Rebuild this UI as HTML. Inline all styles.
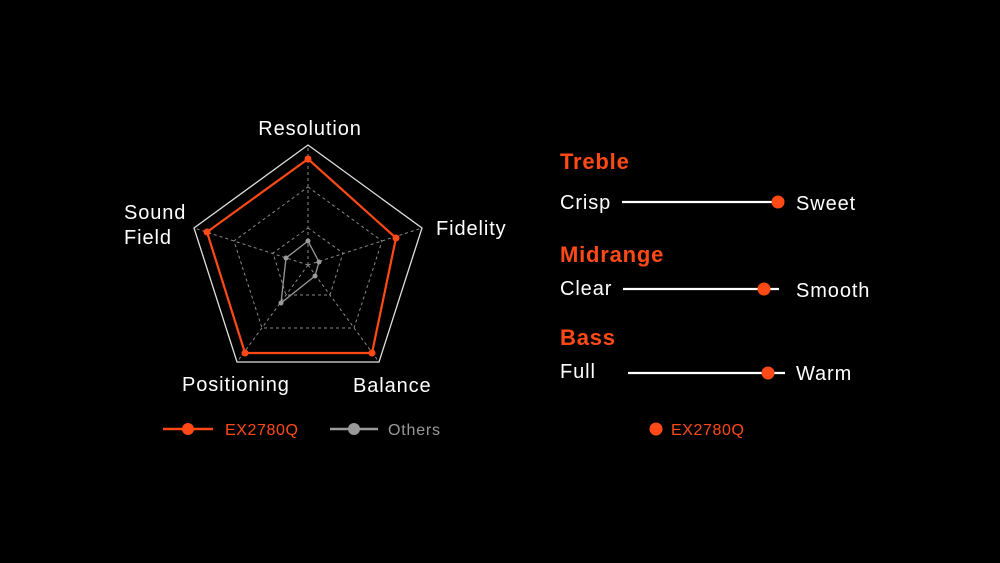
<!DOCTYPE html>
<html><head><meta charset="utf-8"><style>
html,body{margin:0;padding:0;background:#000;}
svg{display:block}
text{font-family:"Liberation Sans",sans-serif;}
</style></head><body>
<svg width="1000" height="563" viewBox="0 0 1000 563" xmlns="http://www.w3.org/2000/svg">
<rect width="1000" height="563" fill="#000"/>
<g fill="none" stroke="#8a8a8a" stroke-width="1" stroke-dasharray="3,3">
<polygon points="308,187 382,241 354,328 262,328 234,241"/>
<polygon points="308,228 343,253 330,295 286,295 273,253"/>
<line x1="308" y1="265" x2="308" y2="145"/>
<line x1="308" y1="265" x2="422" y2="228"/>
<line x1="308" y1="265" x2="379" y2="362"/>
<line x1="308" y1="265" x2="237" y2="362"/>
<line x1="308" y1="265" x2="194" y2="228"/>
</g>
<polygon points="308,145 422,228 379,362 237,362 194,228" fill="none" stroke="#e0e0e0" stroke-width="1.3"/>
<polygon points="308,159 396,238 372,353 245,353 207,232" fill="none" stroke="#ff4a17" stroke-width="2.2"/>
<g fill="#ff4a17"><circle cx="308" cy="159" r="3.5"/><circle cx="396" cy="238" r="3.5"/><circle cx="372" cy="353" r="3.5"/><circle cx="245" cy="353" r="3.5"/><circle cx="207" cy="232" r="3.5"/></g>
<polygon points="308,241 319,262 315,276 281,303 286,258" fill="none" stroke="#9a9a9a" stroke-width="1.3"/>
<g fill="#9a9a9a"><circle cx="308" cy="241" r="2.5"/><circle cx="319" cy="262" r="2.5"/><circle cx="315" cy="276" r="2.5"/><circle cx="281" cy="303" r="2.5"/><circle cx="286" cy="258" r="2.5"/></g>
<g fill="#fff" font-size="20" letter-spacing="0.9">
<text x="310" y="135" text-anchor="middle">Resolution</text>
<text x="124" y="219">Sound</text>
<text x="124" y="244">Field</text>
<text x="436" y="235">Fidelity</text>
<text x="182" y="391">Positioning</text>
<text x="353" y="392">Balance</text>
</g>
<line x1="163" y1="429" x2="213" y2="429" stroke="#ff4a17" stroke-width="2.5"/>
<circle cx="188" cy="429" r="6" fill="#ff4a17"/>
<text x="225" y="435" fill="#ff4a17" font-size="16" letter-spacing="0.6">EX2780Q</text>
<line x1="330" y1="429" x2="378" y2="429" stroke="#9a9a9a" stroke-width="2.5"/>
<circle cx="354" cy="429" r="6" fill="#9a9a9a"/>
<text x="388" y="435" fill="#9a9a9a" font-size="16" letter-spacing="0.8">Others</text>
<g font-weight="bold" fill="#ff4a17" font-size="22" letter-spacing="0.8">
<text x="560" y="169">Treble</text>
<text x="560" y="262">Midrange</text>
<text x="560" y="345">Bass</text>
</g>
<g fill="#fff" font-size="20" letter-spacing="0.9">
<text x="560" y="209">Crisp</text>
<text x="796" y="210">Sweet</text>
<text x="560" y="295">Clear</text>
<text x="796" y="297">Smooth</text>
<text x="560" y="378">Full</text>
<text x="796" y="380">Warm</text>
</g>
<g stroke="#fff" stroke-width="2.2">
<line x1="622" y1="202" x2="778" y2="202"/>
<line x1="623" y1="289" x2="779" y2="289"/>
<line x1="628" y1="373" x2="785" y2="373"/>
</g>
<g fill="#ff4a17">
<circle cx="778" cy="202" r="6.5"/>
<circle cx="764" cy="289" r="6.5"/>
<circle cx="768" cy="373" r="6.5"/>
<circle cx="656" cy="429" r="6.5"/>
</g>
<text x="671" y="435" fill="#ff4a17" font-size="16" letter-spacing="0.6">EX2780Q</text>
</svg>
</body></html>
